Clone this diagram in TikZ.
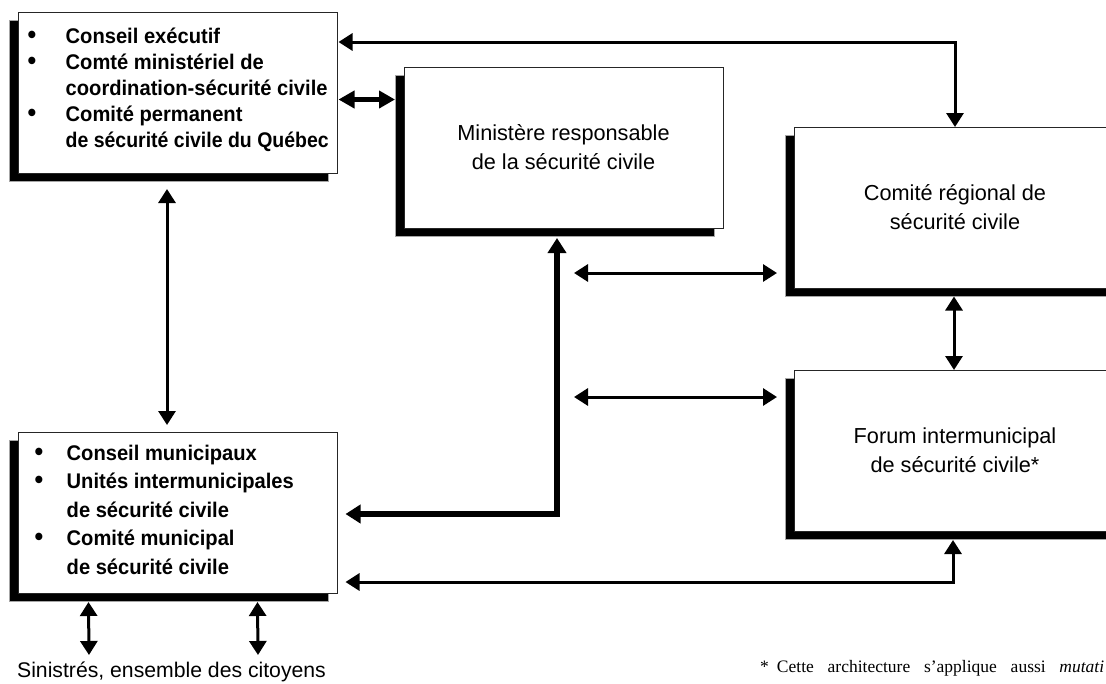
\documentclass[tikz,border=0pt]{standalone}
\usepackage{fontspec}
\usepackage{graphicx}
\setmainfont{Liberation Sans}
\newfontfamily\notefont{Liberation Serif}
\newfontfamily\bfcond[FakeStretch=0.95]{Liberation Sans Bold}
\usetikzlibrary{arrows.meta,calc,shadows}
\newcommand{\bigbul}{{\fontsize{26}{26}\selectfont\textbullet}}
\begin{document}
\begin{tikzpicture}[x=1pt,y=-1pt,
  panel/.style={draw=black!85, line width=1pt, fill=white,
    minimum width=319pt, minimum height=161pt, inner sep=0pt, outer sep=0pt,
    drop shadow={shadow xshift=-9pt, shadow yshift=-8.5pt, fill=black,
      opacity=1, draw=gray!70, line width=1pt}},
  ctext/.style={font=\fontsize{21.7}{29}\selectfont, align=center, inner sep=0pt},
  ltext/.style={anchor=base west, inner sep=0pt},
  thinarr/.style={line width=3pt, {Triangle[length=14pt,width=17pt]}-{Triangle[length=14pt,width=17pt]}},
  midarr/.style={line width=5pt, {Triangle[length=16pt,width=17pt]}-{Triangle[length=16pt,width=17pt]}},
  thickarr/.style={line width=6pt, line join=miter, {Triangle[length=15pt,width=18pt]}-{Triangle[length=15pt,width=18pt]}}
]
\useasboundingbox (0,0) rectangle (1106,683);
\clip (0,0) rectangle (1106,683);

% boxes
\node[panel] (A) at (178,92.5) {};
\node[panel] (B) at (563.5,147.5) {};
\node[panel, minimum width=322pt] (C) at (955,207.5) {};
\node[panel, minimum width=322pt] (D) at (955,450.5) {};
\node[panel] (E) at (178,512.5) {};

% texts
\node[ltext, font=\bfcond\fontsize{21.2}{26}\selectfont] (At) at ($(A.north west)+(9,31)$)
  {\begin{tabular}[t]{@{}p{38pt}@{}l@{}}
   \bigbul & Conseil exécutif\\
   \bigbul & Comté ministériel de\\
           & coordination-sécurité civile\\
   \bigbul & Comité permanent\\
           & \scalebox{0.967}[1]{de sécurité civile du Québec}
   \end{tabular}};
\node[ltext, font=\bfcond\fontsize{21.2}{28.5}\selectfont] (Et) at ($(E.north west)+(16,28)$)
  {\begin{tabular}[t]{@{}p{32pt}@{}l@{}}
   \bigbul & Conseil municipaux\\
   \bigbul & Unités intermunicipales\\
           & de sécurité civile\\
   \bigbul & Comité municipal\\
           & de sécurité civile
   \end{tabular}};
\node[ctext] (Bt) at (B.center) {Ministère responsable\\de la sécurité civile};
\node[ctext] (Ct) at (C.center) {Comité régional de\\sécurité civile};
\node[ctext] (Dt) at (D.center) {Forum intermunicipal\\de sécurité civile*};

\node[anchor=base, inner sep=0pt, font=\fontsize{21.2}{25}\selectfont] (L) at (171.5,677)
  {Sinistrés, ensemble des citoyens};
\node[ltext, font=\notefont\fontsize{17.5}{20}\selectfont] (N) at (760,672)
  {\hbox to 344pt{*\hspace{8pt}Cette\hfill architecture\hfill s’applique\hfill aussi\hfill \textit{mutati}}};

% free ends
\coordinate (m1) at (574,273);
\coordinate (m2) at (574,397);
\coordinate (s1) at (89,655);
\coordinate (s2) at (258,655);

% connectors
\draw[thinarr] ($(A.north east)+(1,30)$) -| (C.north);
\draw[midarr] ($(A.east)+(1,7)$) -- ($(A.east -| B.west)+(-9,7)$);
\draw[thinarr] ($(A.south)+(-11,16)$) -- ($(E.north)+(-11,-7)$);
\draw[thickarr] ($(B.south)+(-6.5,10)$) |- ($(E.east)+(8,1.5)$);
\draw[thinarr] (m1) -- ($(C.south west)+(-17,-15)$);
\draw[thinarr] (m2) -- ($(D.north west)+(-17,27)$);
\draw[thinarr] ($(C.south)+(-1,8.5)$) -- ($(D.north)+(-1,0)$);
\draw[thinarr] ($(D.south)+(-2,9)$) |- ($(E.south east)+(8,-11)$);
\draw[thinarr] ($(E.south west)+(70,9)$) -- (s1);
\draw[thinarr] ($(E.south west)+(239,9)$) -- (s2);
\end{tikzpicture}
\end{document}
